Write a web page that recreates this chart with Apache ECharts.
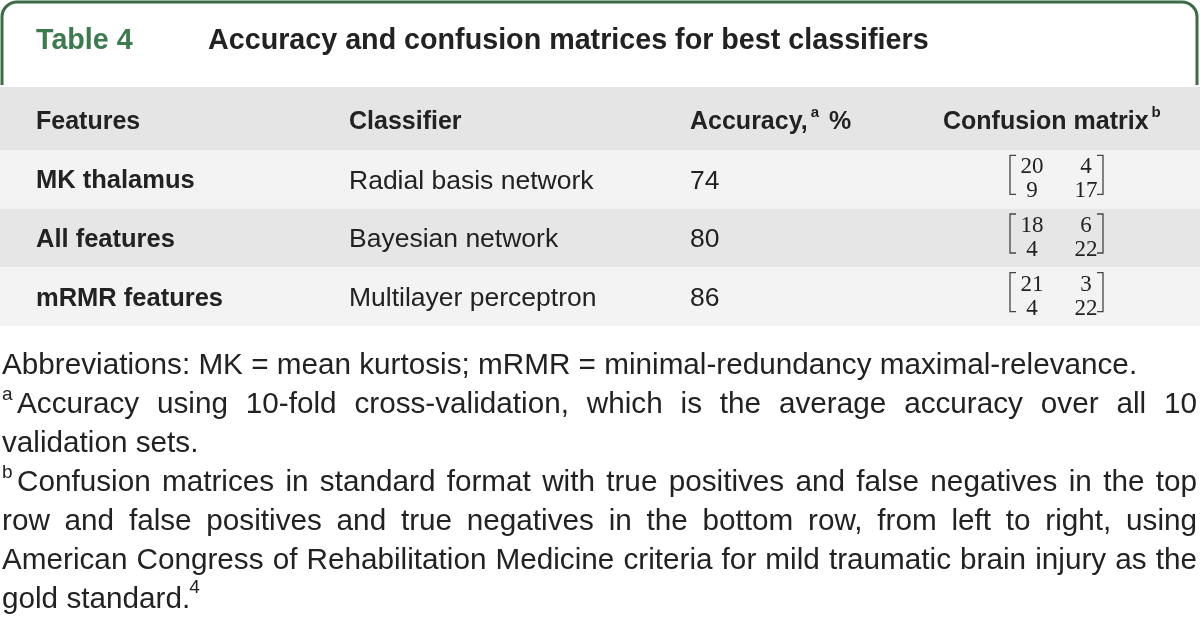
<!DOCTYPE html>
<html><head><meta charset="utf-8">
<script src="https://cdn.jsdelivr.net/npm/echarts@6/dist/echarts.min.js"></script>
<style>html,body{margin:0;padding:0;background:#fff}#c{width:1200px;height:619px}</style>
</head><body><div id="c"></div>
<script>
// ---------- data ----------
const tableLabel = 'Table 4';
const tableTitle = 'Accuracy and confusion matrices for best classifiers';
const headers = ['Features', 'Classifier', 'Accuracy,', 'Confusion matrix'];
const headerSups = ['', '', 'a', 'b'];
const headerTails = ['', '', ' %', ''];
const features = ['MK thalamus', 'All features', 'mRMR features'];
const classifiers = ['Radial basis network', 'Bayesian network', 'Multilayer perceptron'];
const accuracy = [74, 80, 86];
const truePos = [20, 18, 21];
const falseNeg = [4, 6, 3];
const falsePos = [9, 4, 4];
const trueNeg = [17, 22, 22];
const footLines = [
  { sup: '', text: 'Abbreviations: MK = mean kurtosis; mRMR = minimal-redundancy maximal-relevance.', justify: false },
  { sup: 'a', text: 'Accuracy using 10-fold cross-validation, which is the average accuracy over all 10', justify: true },
  { sup: '', text: 'validation sets.', justify: false },
  { sup: 'b', text: 'Confusion matrices in standard format with true positives and false negatives in the top', justify: true },
  { sup: '', text: 'row and false positives and true negatives in the bottom row, from left to right, using', justify: true },
  { sup: '', text: 'American Congress of Rehabilitation Medicine criteria for mild traumatic brain injury as the', justify: true },
  { sup: '', text: 'gold standard.', justify: false, tailSup: '4' }
];

// ---------- style ----------
const SANS = 'Liberation Sans';
const SERIF = 'Liberation Serif';
const TXT = '#222222';
const GREEN = '#3d6b48';
const HEAD_BG = '#e5e5e5';
const ROW_BG = ['#f3f3f3', '#e6e6e6', '#f3f3f3'];
const colX = [36, 349, 690, 943];
const matLeft = 1010, matRight = 1103, matC1 = 1032, matC2 = 1086;

const mctx = document.createElement('canvas').getContext('2d');
function measure(t, font) { mctx.font = font; return mctx.measureText(t).width; }

const chart = echarts.init(document.getElementById('c'), null, { renderer: 'canvas' });
const graphics = [];

// frame (top-rounded, open at bottom)
const fs = { stroke: GREEN, lineWidth: 3, fill: null };
const R = 15;
graphics.push({ type: 'line', silent: true, shape: { x1: 2, y1: 85, x2: 2, y2: 2 + R }, style: fs });
graphics.push({ type: 'arc', silent: true, shape: { cx: 2 + R, cy: 2 + R, r: R, startAngle: Math.PI, endAngle: Math.PI * 1.5, clockwise: true }, style: fs });
graphics.push({ type: 'line', silent: true, shape: { x1: 2 + R, y1: 2, x2: 1197 - R, y2: 2 }, style: fs });
graphics.push({ type: 'arc', silent: true, shape: { cx: 1197 - R, cy: 2 + R, r: R, startAngle: Math.PI * 1.5, endAngle: Math.PI * 2, clockwise: true }, style: fs });
graphics.push({ type: 'line', silent: true, shape: { x1: 1197, y1: 2 + R, x2: 1197, y2: 85 }, style: fs });

const titleFont = 'bold 28.7px ' + SANS;
graphics.push({ type: 'text', x: 36, y: 41, style: { text: tableLabel, font: titleFont, fill: '#3e7a4f', verticalAlign: 'middle' } });
graphics.push({ type: 'text', x: 208, y: 41, style: { text: tableTitle, font: titleFont, fill: TXT, verticalAlign: 'middle' } });

// header row
graphics.push({ type: 'rect', shape: { x: 0, y: 87, width: 1200, height: 63 }, style: { fill: HEAD_BG } });
const headFont = 'bold 25px ' + SANS;
const hSupFont = 'bold 15px ' + SANS;
headers.forEach((h, i) => {
  let x = colX[i];
  graphics.push({ type: 'text', x: x, y: 122, style: { text: h, font: headFont, fill: TXT, verticalAlign: 'middle' } });
  x += measure(h, headFont);
  if (headerSups[i]) {
    graphics.push({ type: 'text', x: x + 3, y: 113, style: { text: headerSups[i], font: hSupFont, fill: TXT, verticalAlign: 'middle' } });
    x += 3 + measure(headerSups[i], hSupFont) + 3;
  }
  if (headerTails[i]) {
    graphics.push({ type: 'text', x: x, y: 122, style: { text: headerTails[i], font: headFont, fill: TXT, verticalAlign: 'middle' } });
  }
});

// footnotes
const footFont = '29.7px ' + SANS;
const supFont = '19px ' + SANS;
const lineY0 = 366, lineStep = 38.9, xL = 2, xR = 1197;
footLines.forEach((ln, k) => {
  const y = lineY0 + k * lineStep;
  let x0 = xL;
  if (ln.sup) {
    graphics.push({ type: 'text', x: xL, y: y - 10, style: { text: ln.sup, font: supFont, fill: TXT, verticalAlign: 'middle' } });
    x0 = 17;
  }
  if (ln.justify) {
    const words = ln.text.split(' ');
    const ws = words.map(w => measure(w, footFont));
    const total = ws.reduce((a, b) => a + b, 0);
    const gap = (xR - x0 - total) / (words.length - 1);
    let x = x0;
    words.forEach((w, j) => {
      graphics.push({ type: 'text', x: x, y: y, style: { text: w, font: footFont, fill: TXT, verticalAlign: 'middle' } });
      x += ws[j] + gap;
    });
  } else {
    graphics.push({ type: 'text', x: x0, y: y, style: { text: ln.text, font: footFont, fill: TXT, verticalAlign: 'middle' } });
    if (ln.tailSup) {
      const w = measure(ln.text, footFont);
      graphics.push({ type: 'text', x: x0 + w - 1, y: y - 12, style: { text: ln.tailSup, font: supFont, fill: TXT, verticalAlign: 'middle' } });
    }
  }
});

function renderRow(params, api) {
  const idx = api.value(1);
  const c = api.coord([0, idx]);
  const bandH = api.size([0, 1])[1];
  const xEnd = api.coord([1200, idx])[0];
  const cy = c[1];
  const top = cy - bandH / 2;
  const X = v => api.coord([v, idx])[0];
  const children = [];
  children.push({ type: 'rect', shape: { x: c[0], y: top, width: xEnd - c[0], height: bandH }, style: { fill: ROW_BG[idx] } });
  children.push({ type: 'text', x: X(colX[0]), y: cy + 2, style: { text: features[idx], font: 'bold 25.5px ' + SANS, fill: TXT, verticalAlign: 'middle' } });
  children.push({ type: 'text', x: X(colX[1]), y: cy + 2, style: { text: classifiers[idx], font: '26.5px ' + SANS, fill: TXT, verticalAlign: 'middle' } });
  children.push({ type: 'text', x: X(colX[2]), y: cy + 2, style: { text: String(accuracy[idx]), font: '26.5px ' + SANS, fill: TXT, verticalAlign: 'middle' } });
  const mf = '23px ' + SERIF;
  const r1 = cy - 12, r2 = cy + 12;
  [[truePos[idx], matC1, r1], [falseNeg[idx], matC2, r1], [falsePos[idx], matC1, r2], [trueNeg[idx], matC2, r2]].forEach(([v, x, y]) => {
    children.push({ type: 'text', x: X(x), y: y, style: { text: String(v), font: mf, fill: TXT, align: 'center', verticalAlign: 'middle' } });
  });
  const bt = cy - 24, bb = cy + 15;
  const l = X(matLeft), r = X(matRight);
  children.push({ type: 'polyline', shape: { points: [[l + 6, bt], [l, bt], [l, bb], [l + 6, bb]] }, style: { stroke: '#444', lineWidth: 1.3, fill: null } });
  children.push({ type: 'polyline', shape: { points: [[r - 6, bt], [r, bt], [r, bb], [r - 6, bb]] }, style: { stroke: '#444', lineWidth: 1.3, fill: null } });
  return { type: 'group', children: children };
}

chart.setOption({
  animation: false,
  backgroundColor: '#ffffff',
  grid: { left: 0, right: 0, top: 150, bottom: 293 },
  xAxis: { type: 'value', min: 0, max: 1200, show: false },
  yAxis: { type: 'category', data: features, inverse: true, show: false },
  series: [{
    type: 'custom',
    renderItem: renderRow,
    encode: { x: 0, y: 1 },
    data: features.map((f, i) => [0, i]),
    silent: true
  }],
  graphic: graphics
});
</script></body></html>
